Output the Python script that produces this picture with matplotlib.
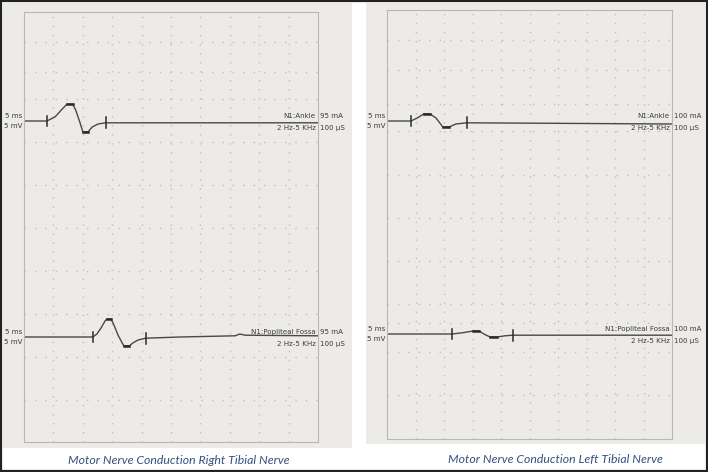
import matplotlib
matplotlib.use("Agg")
import matplotlib.pyplot as plt
from matplotlib.patches import Rectangle
import numpy as np

# waveform data: time (ms) and amplitude (mV, relative to baseline)
right_ankle_t = [0, 3.9, 5.3, 6.5, 7.3, 8.3, 8.8, 9.5, 10.0, 10.9, 11.6, 12.6, 13.9, 30, 50]
right_ankle_v = [0, 0, 0.7, 2.0, 2.8, 2.8, 1.8, -0.2, -1.8, -1.8, -1.0, -0.5, -0.3, -0.3, -0.3]
right_popl_t = [0, 11.7, 12.4, 13.1, 13.8, 14.1, 14.8, 15.3, 16.0, 16.7, 17.0, 17.9, 18.5, 19.4,
                20.7, 26.5, 35.9, 36.7, 37.6, 50]
right_popl_v = [0, 0, 0.5, 1.5, 2.7, 3.0, 3.0, 2.0, 0.3, -1.0, -1.5, -1.5, -1.0, -0.5,
                -0.2, 0, 0.2, 0.5, 0.3, 0.2]
left_ankle_t = [0, 4.2, 5.3, 6.5, 7.5, 8.6, 9.8, 10.9, 12.1, 14.0, 50]
left_ankle_v = [0, 0, 0.5, 1.2, 1.2, 0.5, -1.0, -1.0, -0.5, -0.3, -0.5]
left_popl_t = [0, 11.4, 13.2, 15.1, 16.1, 17.4, 18.1, 19.3, 20.7, 22.1, 50]
left_popl_v = [0, 0, 0.2, 0.5, 0.5, -0.2, -0.5, -0.5, -0.3, -0.2, -0.2]

# cursor markers: onset / end ticks, peak and trough bars (ms)
right_ankle_marks = {"ticks": [3.9, 13.9], "peak": [7.3, 8.3], "trough": [10.0, 10.9]}
right_popl_marks = {"ticks": [11.7, 20.7], "peak": [14.1, 14.8], "trough": [17.0, 17.9]}
left_ankle_marks = {"ticks": [4.2, 14.0], "peak": [6.5, 7.5], "trough": [9.8, 10.9]}
left_popl_marks = {"ticks": [11.4, 22.1], "peak": [15.1, 16.1], "trough": [18.1, 19.3]}

sites = ["N1:Ankle", "N1:Popliteal Fossa"]
right_current = "95 mA"
left_current = "100 mA"
filter_txt = "2 Hz-5 KHz"
duration_txt = "100 \u00b5S"
captions = ["Motor Nerve Conduction Right Tibial Nerve", "Motor Nerve Conduction Left Tibial Nerve"]

W, H = 708, 472
PAPER = "#ecebe8"
GRID = "#c0bfbb"
TRACE = "#484846"
TXT = "#3c3c3a"
FS = 5.1

# dotted row positions on the paper (pixels from the top of the photo)
right_rows = [42, 72, 99, 142, 185, 228, 271, 314, 357, 400]
left_rows = [40, 70, 104, 131, 175, 218, 261, 304, 323, 352, 395]


def fx(px):
    return px / W


def fy(py):
    return 1 - py / H


def draw_panel(fig, box, traces, current, rows):
    x0, y0, x1, y1 = box
    ax = fig.add_axes([fx(x0), fy(y1), fx(x1) - fx(x0), fy(y0) - fy(y1)])
    ax.set_facecolor("none")
    height_mv = (y1 - y0) / 6.0
    ax.set_xlim(0, 50)
    ax.set_ylim(0, height_mv)
    ax.set_xticks([])
    ax.set_yticks([])
    for s in ax.spines.values():
        s.set_color("#b8b7b3")
        s.set_linewidth(0.8)

    # dotted grid
    for xv in np.arange(5, 50, 5):
        ax.axvline(xv, color=GRID, lw=1.0, ls=(0, (1, 5.5)))
    for r in rows:
        ax.axhline((y1 - r) / 6.0, color=GRID, lw=1.0, ls=(0, (1, 6.5)))

    for (t, v, marks, base), site in zip(traces, sites):
        t = np.array(t)
        v = np.array(v) + base
        ax.plot(t, v, color=TRACE, lw=1.0, solid_capstyle="round")
        for tk in marks["ticks"]:
            yb = np.interp(tk, t, v)
            ax.plot([tk, tk], [yb - 0.9, yb + 0.9], color="#2a2a2a", lw=1.1)
        for key in ("peak", "trough"):
            a, b = marks[key]
            yb = np.interp((a + b) / 2, t, v)
            ax.plot([a, b], [yb, yb], color="#2a2a2a", lw=1.8)
        ax.text(49.6, base + 0.9, site, ha="right", va="center", fontsize=FS, color=TXT)
        ax.text(50.4, base + 0.9, current, ha="left", va="center", fontsize=FS, color=TXT,
                clip_on=False)
        ax.text(49.6, base - 1.1, filter_txt, ha="right", va="center", fontsize=FS, color=TXT)
        ax.text(50.4, base - 1.1, duration_txt, ha="left", va="center", fontsize=FS, color=TXT,
                clip_on=False)
        ax.text(-0.3, base + 0.8, "5 ms", ha="right", va="center", fontsize=FS, color=TXT,
                clip_on=False)
        ax.text(-0.3, base - 0.8, "5 mV", ha="right", va="center", fontsize=FS, color=TXT,
                clip_on=False)
    return ax


fig = plt.figure(figsize=(W / 100, H / 100), dpi=100)
fig.patch.set_facecolor("white")

# photo backgrounds
fig.patches.append(Rectangle((fx(3), fy(448)), fx(352) - fx(3), fy(3) - fy(448),
                             transform=fig.transFigure, facecolor=PAPER, edgecolor="none", zorder=-5))
fig.patches.append(Rectangle((fx(366), fy(444)), fx(705) - fx(366), fy(3) - fy(444),
                             transform=fig.transFigure, facecolor=PAPER, edgecolor="none", zorder=-5))

draw_panel(fig, (24, 12, 318, 442),
           [(right_ankle_t, right_ankle_v, right_ankle_marks, (442 - 121) / 6.0),
            (right_popl_t, right_popl_v, right_popl_marks, (442 - 337) / 6.0)],
           right_current, right_rows)
draw_panel(fig, (387, 10, 672, 439),
           [(left_ankle_t, left_ankle_v, left_ankle_marks, (439 - 121) / 6.0),
            (left_popl_t, left_popl_v, left_popl_marks, (439 - 334) / 6.0)],
           left_current, left_rows)

fig.text(fx(179), fy(460), captions[0], ha="center", va="center", fontsize=8.8,
         family="Lato", style="italic", color="#34507f")
fig.text(fx(555), fy(460), captions[1], ha="center", va="center", fontsize=8.8,
         family="Lato", style="italic", color="#34507f")

# outer frame
fig.patches.append(Rectangle((0.0015, 0.002), 0.997, 0.996, transform=fig.transFigure,
                             facecolor="none", edgecolor="#222222", lw=1.6, zorder=10))

fig.savefig("out.png", dpi=100)
